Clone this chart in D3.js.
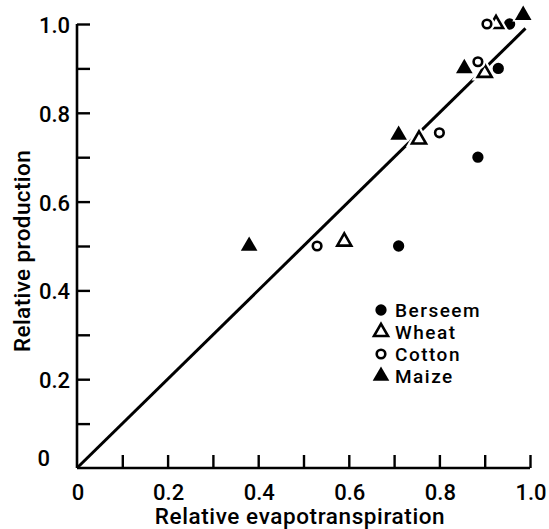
<!DOCTYPE html>
<html><head><meta charset="utf-8">
<script src="https://cdn.jsdelivr.net/npm/d3@7"></script>
<style>
html,body{margin:0;padding:0;background:#fff;}
svg{display:block;font-family:Roboto,"DejaVu Sans",sans-serif;}
</style></head>
<body>
<svg id="chart" width="549" height="529"></svg>
<script>
const series = ["Berseem","Wheat","Cotton","Maize"];
const berseemX = [0.71, 0.885, 0.93, 0.955];
const berseemY = [0.50, 0.70, 0.90, 1.00];
const wheatX = [0.59, 0.755, 0.90, 0.925];
const wheatY = [0.51, 0.74, 0.89, 1.00];
const cottonX = [0.53, 0.80, 0.885, 0.905];
const cottonY = [0.50, 0.755, 0.915, 1.00];
const maizeX = [0.38, 0.71, 0.855, 0.985];
const maizeY = [0.50, 0.75, 0.90, 1.02];
const lineX = [0, 0.99];
const lineY = [0, 0.99];
const xTickLabels = ["0","0.2","0.4","0.6","0.8","1.0"];
const yTickLabels = ["0","0.2","0.4","0.6","0.8","1.0"];
const minorTicks = [0,0.1,0.2,0.3,0.4,0.5,0.6,0.7,0.8,0.9,1.0];

const svg = d3.select("#chart");
const L = 77, R = 530, T = 24, B = 468;
const x = d3.scaleLinear().domain([0,1]).range([L,R]);
const y = d3.scaleLinear().domain([0,1]).range([B,T]);

// axes lines with inward ticks
const xAxis = d3.axisBottom(x).tickValues(minorTicks).tickSize(-13).tickFormat("");
const yAxis = d3.axisLeft(y).tickValues(minorTicks).tickSize(-13).tickFormat("");
const gx = svg.append("g").attr("transform",`translate(0,${B})`).call(xAxis);
const gy = svg.append("g").attr("transform",`translate(${L},0)`).call(yAxis);
[gx,gy].forEach(g=>{
  g.select(".domain").attr("stroke","#000").attr("stroke-width",2.6);
  g.selectAll(".tick line").attr("stroke","#000").attr("stroke-width",2.4);
});
gx.select(".domain").attr("d",`M${L},0H${R}`);
gy.select(".domain").attr("d",`M0,${B}V${T}`);
gx.selectAll(".tick").filter(d=>d===0).remove();
gy.selectAll(".tick").filter(d=>d===0).remove();

// tick labels
const labVals = [0,0.2,0.4,0.6,0.8,1.0];
svg.append("g").selectAll("text").data(labVals).join("text")
  .attr("x",d=>x(d)+1).attr("y",B+32)
  .attr("text-anchor","middle").attr("font-size",22).attr("font-weight",500)
  .text((d,i)=>xTickLabels[i]);
svg.append("g").selectAll("text").data(labVals).join("text")
  .attr("x",d=> d===0 ? L-27 : L-7).attr("y",d=> d===0 ? y(d)-2 : y(d)+9)
  .attr("text-anchor","end").attr("font-size",22).attr("font-weight",500)
  .text((d,i)=>yTickLabels[i]);

// axis titles
svg.append("text").attr("x",300).attr("y",B+56)
  .attr("text-anchor","middle").attr("font-size",22.5).attr("font-weight",500)
  .attr("letter-spacing",0.6)
  .text("Relative evapotranspiration");
svg.append("text").attr("transform",`translate(30,251) rotate(-90)`)
  .attr("text-anchor","middle").attr("font-size",22.5).attr("font-weight",500)
  .attr("letter-spacing",0.4)
  .text("Relative production");

// 1:1 line
svg.append("line")
  .attr("x1",x(lineX[0])).attr("y1",y(lineY[0]))
  .attr("x2",x(lineX[1])).attr("y2",y(lineY[1]))
  .attr("stroke","#000").attr("stroke-width",3);

// markers
const sym = {
  Berseem: {type:d3.symbolCircle, size:100, fill:"#000"},
  Wheat: {type:d3.symbolTriangle, size:85, fill:"#fff"},
  Cotton: {type:d3.symbolCircle, size:58, fill:"#fff"},
  Maize: {type:d3.symbolTriangle, size:120, fill:"#000"}
};
const data = [
  ...berseemX.map((v,i)=>({s:"Berseem",x:v,y:berseemY[i]})),
  ...wheatX.map((v,i)=>({s:"Wheat",x:v,y:wheatY[i]})),
  ...cottonX.map((v,i)=>({s:"Cotton",x:v,y:cottonY[i]})),
  ...maizeX.map((v,i)=>({s:"Maize",x:v,y:maizeY[i]}))
];
function drawSym(g, s){
  const o = sym[s];
  const p = d3.symbol().type(o.type).size(o.size)();
  if (o.fill === "#fff") {
    g.append("path").attr("d",p).attr("fill","#fff").attr("stroke","#fff").attr("stroke-width",7);
    g.append("path").attr("d",p).attr("fill","#fff").attr("stroke","#000").attr("stroke-width",2.6);
  } else {
    g.append("path").attr("d",p).attr("fill","#000").attr("stroke","#fff").attr("stroke-width",3);
    g.append("path").attr("d",p).attr("fill","#000");
  }
}
const pts = svg.append("g").selectAll("g").data(data).join("g")
  .attr("transform",d=>`translate(${x(d.x)},${y(d.y)})`);
pts.each(function(d){ drawSym(d3.select(this), d.s); });

// legend
const leg = svg.append("g").attr("transform","translate(381,310)");
series.forEach((s,i)=>{
  const g = leg.append("g").attr("transform",`translate(0,${i*22})`);
  drawSym(g, s);
  g.append("text").attr("x",14).attr("y",7).attr("font-size",19).attr("font-weight",500)
    .attr("letter-spacing",1.5).text(s);
});
</script>
</body></html>
